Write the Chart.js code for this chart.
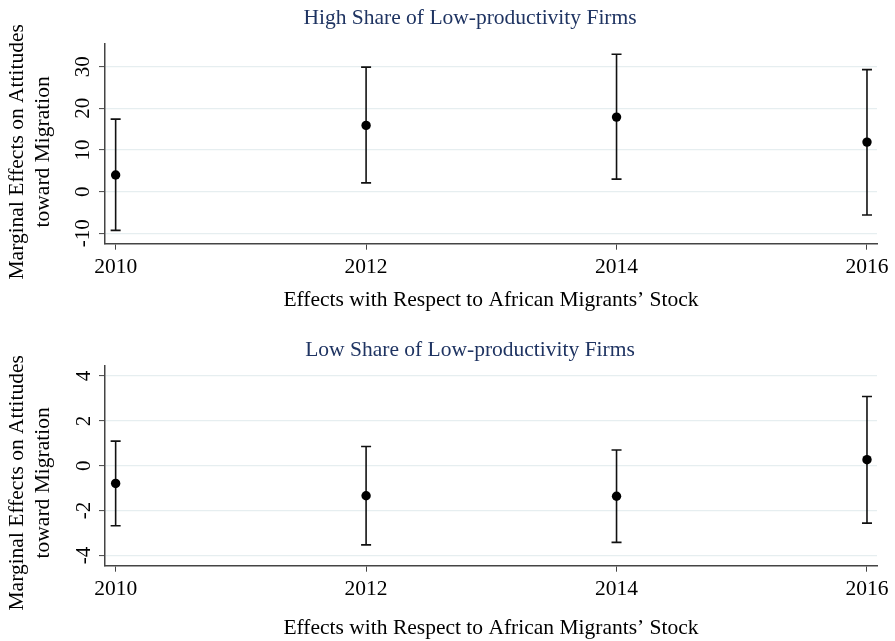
<!DOCTYPE html>
<html>
<head>
<meta charset="utf-8">
<script src="https://cdn.jsdelivr.net/npm/chart.js@4.4.1/dist/chart.umd.min.js"></script>
<style>
  body { margin: 0; background: #fff; }
  .panel { position: absolute; left: 0; width: 895px; }
</style>
</head>
<body>
<div class="panel" style="top: 0; height: 320px;"><canvas id="high"></canvas></div>
<div class="panel" style="top: 320px; height: 321px;"><canvas id="low"></canvas></div>
<script>
// years on the x axis
const years = [2010, 2012, 2014, 2016];

// high share of low-productivity firms
const highEst = [4.0, 15.9, 17.9, 11.9];
const highLo = [-9.3, 2.1, 3.0, -5.6];
const highHi = [17.4, 29.9, 33.0, 29.3];
const highTicks = [-10, 0, 10, 20, 30];

// low share of low-productivity firms
const lowEst = [-0.79, -1.34, -1.36, 0.27];
const lowLo = [-2.68, -3.53, -3.42, -2.56];
const lowHi = [1.10, 0.86, 0.70, 3.09];
const lowTicks = [-4, -2, 0, 2, 4];

const yTitleLines = ["Marginal Effects on Attitudes", "toward Migration"];
const xTitle = "Effects with Respect to African Migrants\u2019 Stock";

const serif = "'Liberation Serif', 'Times New Roman', serif";
const fs = 21.5;

const yTitlePlugin = {
  id: "yTitle",
  afterDraw(chart, args, opts) {
    const { ctx, chartArea } = chart;
    const cy = (chartArea.top + chartArea.bottom) / 2 + opts.shift;
    ctx.save();
    ctx.font = fs + "px " + serif;
    ctx.fillStyle = "#000";
    ctx.textAlign = "center";
    ctx.textBaseline = "middle";
    yTitleLines.forEach((t, i) => {
      ctx.save();
      ctx.translate(opts.xs[i], cy);
      ctx.rotate(-Math.PI / 2);
      ctx.fillText(t, 0, 0);
      ctx.restore();
    });
    ctx.restore();
  },
};

function makePanel(canvasId, cfg) {
  const points = years.map((y, i) => ({ x: y, y: cfg.est[i] }));
  const whiskers = [];
  const caps = [];
  years.forEach((y, i) => {
    whiskers.push({ x: y, y: cfg.lo[i] }, { x: y, y: cfg.hi[i] }, { x: y, y: null });
    caps.push({ x: y, y: cfg.lo[i] }, { x: y, y: cfg.hi[i] });
  });

  return new Chart(document.getElementById(canvasId), {
    type: "line",
    data: {
      datasets: [
        {
          data: points,
          showLine: false,
          pointRadius: 4.7,
          pointBackgroundColor: "#000",
          pointBorderWidth: 0,
        },
        {
          data: whiskers,
          borderColor: "#111",
          borderWidth: 1.6,
          pointRadius: 0,
          spanGaps: false,
        },
        {
          data: caps,
          showLine: false,
          pointStyle: "line",
          pointRadius: 5,
          pointBorderColor: "#111",
          pointBorderWidth: 1.6,
        },
      ],
    },
    options: {
      responsive: true,
      maintainAspectRatio: false,
      animation: false,
      layout: { padding: { left: 63, right: 18, top: 0, bottom: 0 } },
      plugins: {
        legend: { display: false },
        tooltip: { enabled: false },
        title: {
          display: true,
          text: cfg.title,
          color: "#1f3462",
          font: { family: serif, size: fs, weight: "normal" },
          padding: cfg.titlePad,
        },
        yTitle: { shift: cfg.yShift, xs: [17, 43] },
      },
      scales: {
        x: {
          type: "linear",
          min: 2009.915,
          max: 2016.08,
          afterBuildTicks: (s) => { s.ticks = years.map((v) => ({ value: v })); },
          afterFit: (s) => { s.height = cfg.xHeight; },
          ticks: {
            color: "#000",
            font: { family: serif, size: fs },
            padding: 4.4,
            maxRotation: 0,
            callback: (v) => String(v),
          },
          grid: { drawOnChartArea: false, tickLength: 6, tickColor: "#444", tickWidth: 1 },
          border: { color: "#444", width: 1.5 },
          title: {
            display: true,
            text: xTitle,
            color: "#000",
            font: { family: serif, size: fs },
            padding: { top: 0, bottom: cfg.xTitlePad },
          },
        },
        y: {
          min: cfg.yMin,
          max: cfg.yMax,
          afterBuildTicks: (s) => { s.ticks = cfg.ticks.map((v) => ({ value: v })); },
          afterFit: (s) => { s.width = 42; },
          ticks: {
            color: "#000",
            font: { family: serif, size: 21 },
            minRotation: 90,
            maxRotation: 90,
            crossAlign: "center",
            padding: cfg.yTickPad,
          },
          grid: { color: "#e6eef0", lineWidth: 1.2, tickLength: 6, tickColor: "#444", tickWidth: 1 },
          border: { color: "#444", width: 1.5 },
        },
      },
    },
    plugins: [yTitlePlugin],
  });
}

makePanel("high", {
  title: "High Share of Low-productivity Firms",
  est: highEst, lo: highLo, hi: highHi, ticks: highTicks,
  yMin: -12.5, yMax: 35.45,
  titlePad: { top: 5.1, bottom: 13.1 },
  xHeight: 76.3, xTitlePad: 7.1, yTickPad: 2, yShift: 8,
});

makePanel("low", {
  title: "Low Share of Low-productivity Firms",
  est: lowEst, lo: lowLo, hi: lowHi, ticks: lowTicks,
  yMin: -4.46, yMax: 4.45,
  titlePad: { top: 17.1, bottom: 3.1 },
  xHeight: 75.3, xTitlePad: 0, yTickPad: 6.2, yShift: 17,
});
</script>
</body>
</html>
